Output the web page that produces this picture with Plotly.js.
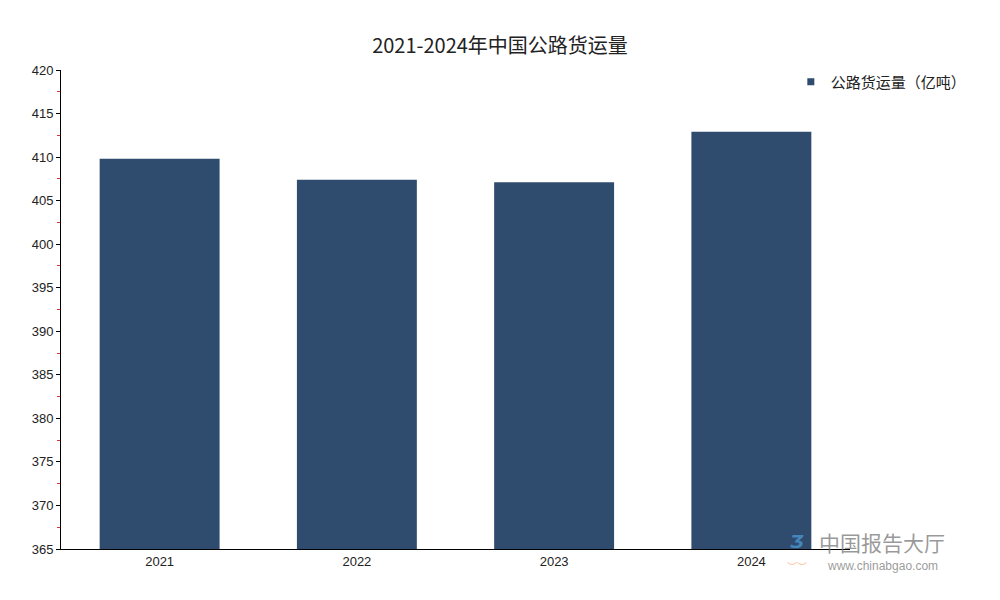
<!DOCTYPE html>
<html>
<head>
<meta charset="utf-8">
<script src="https://cdn.plot.ly/plotly-3.0.1.min.js"></script>
<style>html,body{margin:0;padding:0;background:#fff;}#chart{width:1000px;height:600px;}</style>
</head>
<body>
<div id="chart"></div>
<script>
const years = ['2021', '2022', '2023', '2024'];
const freight = [409.8, 407.4, 407.1, 412.9];
const seriesName = '公路货运量（亿吨）';
const chartTitle = '2021-2024年中国公路货运量';
const yTicks = [365, 370, 375, 380, 385, 390, 395, 400, 405, 410, 415, 420];
const barColor = '#2f4b6e';

const trace = {
  type: 'bar',
  x: years,
  y: freight,
  name: seriesName,
  marker: {color: barColor},
  showlegend: false,
  hoverinfo: 'x+y'
};

// legend entry with a small square marker, as in the reference
const legendTrace = {
  type: 'scatter',
  mode: 'markers',
  x: [null],
  y: [null],
  name: seriesName,
  marker: {symbol: 'square', size: 7, color: barColor},
  showlegend: true,
  hoverinfo: 'skip'
};

const layout = {
  width: 1000,
  height: 600,
  margin: {l: 61, r: 150, t: 70, b: 51},
  paper_bgcolor: '#ffffff',
  plot_bgcolor: '#ffffff',
  bargap: 0.392,
  title: {
    text: chartTitle,
    x: 0.5,
    xanchor: 'center',
    y: 0.923,
    yanchor: 'middle',
    font: {family: '"Noto Sans CJK SC", "DejaVu Sans", sans-serif', size: 20, color: '#222'}
  },
  font: {family: '"Liberation Sans", Arial, sans-serif', size: 13, color: '#222'},
  xaxis: {
    type: 'category',
    showline: true,
    linecolor: '#000',
    linewidth: 1,
    ticks: '',
    showgrid: false,
    zeroline: false,
    tickfont: {size: 13, color: '#222'}
  },
  yaxis: {
    range: [365, 420],
    tickvals: yTicks,
    ticktext: yTicks.map(String),
    showline: true,
    linecolor: '#000',
    linewidth: 1,
    ticks: 'outside',
    ticklen: 4,
    tickcolor: '#000',
    showgrid: false,
    zeroline: false,
    tickfont: {size: 13, color: '#222'},
    minor: {dtick: 2.5, tick0: 365, ticks: 'outside', ticklen: 3, tickcolor: '#e03030', showgrid: false}
  },
  legend: {
    x: 0.925,
    y: 0.975,
    xanchor: 'left',
    yanchor: 'middle',
    bgcolor: 'rgba(0,0,0,0)',
    font: {family: '"Noto Sans CJK SC", sans-serif', size: 15, color: '#222'},
    itemwidth: 30
  },
  annotations: [
    {
      xref: 'paper', yref: 'paper',
      x: (882 - 61) / 789, y: (549 - 542) / 479,
      xanchor: 'center', yanchor: 'middle',
      text: '中国报告大厅', showarrow: false,
      font: {family: '"Noto Sans CJK SC", sans-serif', size: 21, color: 'rgba(120,120,120,0.75)'}
    },
    {
      xref: 'paper', yref: 'paper',
      x: (882 - 61) / 789, y: (549 - 566) / 479,
      xanchor: 'center', yanchor: 'middle',
      text: 'www.chinabgao.com', showarrow: false,
      font: {family: '"Liberation Sans", Arial, sans-serif', size: 12, color: 'rgba(120,120,120,0.75)'}
    },
    {
      xref: 'paper', yref: 'paper',
      x: (797 - 61) / 789, y: (549 - 541) / 479,
      xanchor: 'center', yanchor: 'middle',
      text: '<b><i>Ʒ</i></b>', showarrow: false,
      font: {family: '"DejaVu Sans", sans-serif', size: 18, color: 'rgba(80,160,220,0.7)'}
    },
    {
      xref: 'paper', yref: 'paper',
      x: (797 - 61) / 789, y: (549 - 566) / 479,
      xanchor: 'center', yanchor: 'middle',
      text: '︶︶', showarrow: false,
      font: {family: '"Noto Sans CJK SC", sans-serif', size: 10, color: 'rgba(250,150,90,0.6)'}
    }
  ]
};

Plotly.newPlot('chart', [trace, legendTrace], layout, {displayModeBar: false, staticPlot: true});
</script>
</body>
</html>
